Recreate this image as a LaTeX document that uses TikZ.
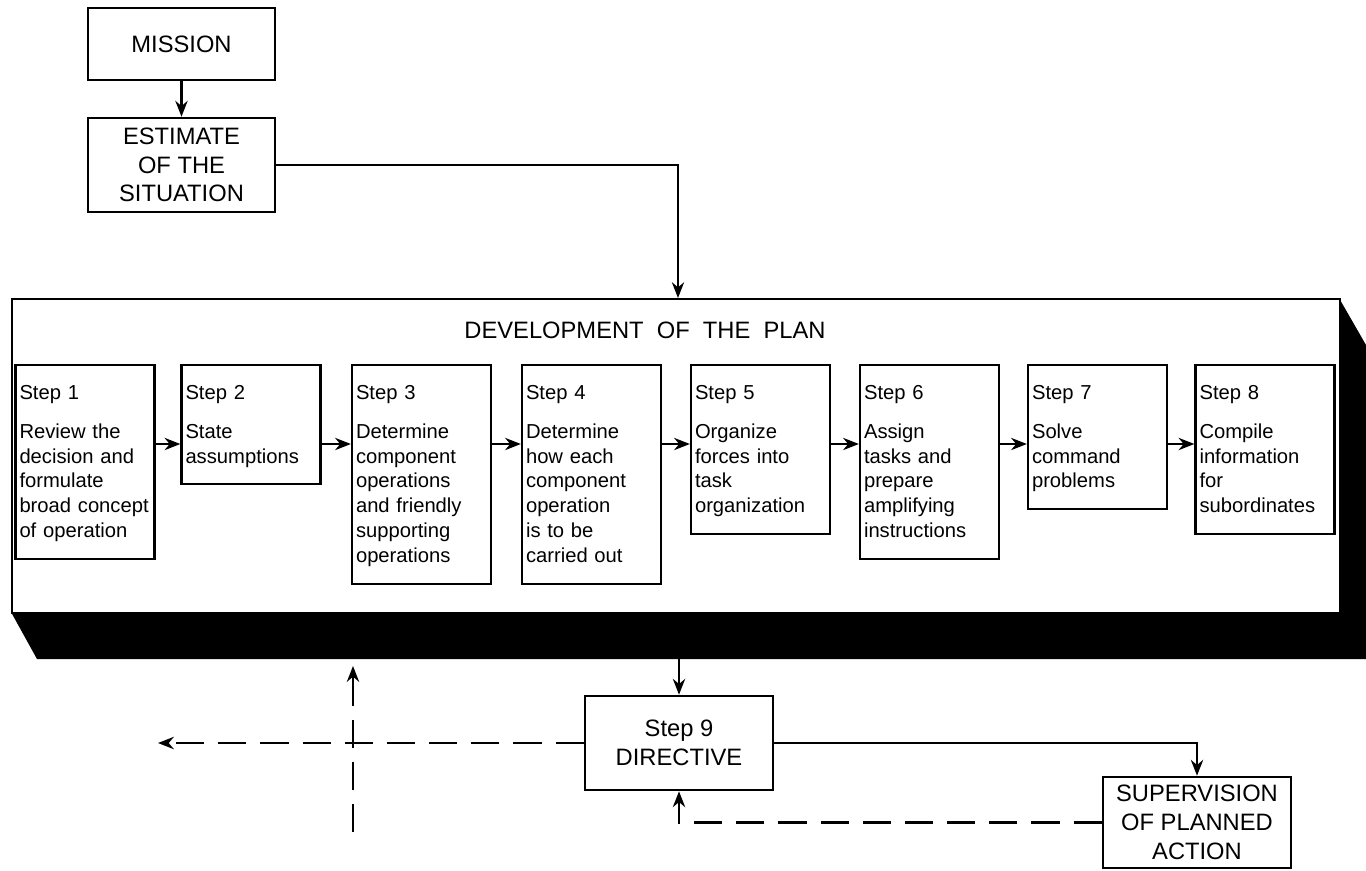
\documentclass[tikz,border=0pt]{standalone}
\usepackage{fontspec}
\setmainfont{Liberation Sans}
\usetikzlibrary{arrows.meta}

\newcommand{\capsfont}{\fontsize{13.5}{16.4}\selectfont}
\newcommand{\stepfont}{\fontsize{11.5}{14.2}\selectfont}
\newcommand{\topstrut}{\rule{0pt}{0.68cm}}
\newcommand{\botstrut}{\rule[-0.42cm]{0pt}{0.42cm}}

\tikzset{
	titlebox/.style={draw, line width=1.5pt, font=\capsfont, align=center, inner sep=0pt},
	stepbox/.style={draw, line width=1.3pt, anchor=north, text width=2.62cm, inner xsep=0.08cm, inner ysep=0pt, align=left, font=\stepfont},
	link/.style={line width=1.2pt, ->},
	feedback/.style={line width=1.4pt, ->, dash pattern=on 16pt off 8pt}
}

\begin{document}
\begin{tikzpicture}[x=0.02cm, y=-0.02cm, >={Stealth[length=9pt,width=7pt]}]
	
	\useasboundingbox (0,0) rectangle (1366,870);
	
	% top of the chart
	\node[titlebox, minimum width=3.74cm, minimum height=1.44cm] (mission) at (181.5,44) {MISSION};
	\node[titlebox, minimum width=3.74cm, minimum height=1.88cm] (estimate) at (181.5,165) {ESTIMATE\\OF THE\\SITUATION};
	\draw[link] (mission) -- (estimate);
	
	% the plan block and its shadow
	\fill (1339,298) -- (1366,345) -- (1366,659) -- (37,659) -- (11,612) -- (1339,612) -- cycle;
	\node[draw, line width=1.3pt, anchor=north west, minimum width=26.56cm, minimum height=6.28cm, inner sep=0pt] (plan) at (11,298) {};
	\node[font=\capsfont] (plantitle) at (645,330) {DEVELOPMENT\ \ OF\ \ THE\ \ PLAN};
	\coordinate (plantop) at (678,298);
	\coordinate (planbot) at (679,659);
	\draw[link, line width=0.9pt] (estimate.east) -| (plantop);
	
	% steps 1 to 8
	\node[stepbox] (s1) at (85,364) {\topstrut Step 1\\[0.28cm]Review the\\decision and\\formulate\\broad concept\\of operation\botstrut};
	\node[stepbox] (s2) at (251,364) {\topstrut Step 2\\[0.28cm]State\\assumptions\botstrut};
	\node[stepbox] (s3) at (421.5,364) {\topstrut Step 3\\[0.28cm]Determine\\component\\operations\\and friendly\\supporting\\operations\botstrut};
	\node[stepbox] (s4) at (591.5,364) {\topstrut Step 4\\[0.28cm]Determine\\how each\\component\\operation\\is to be\\carried out\botstrut};
	\node[stepbox] (s5) at (760.5,364) {\topstrut Step 5\\[0.28cm]Organize\\forces into\\task\\organization\botstrut};
	\node[stepbox] (s6) at (929.5,364) {\topstrut Step 6\\[0.28cm]Assign\\tasks and\\prepare\\amplifying\\instructions\botstrut};
	\node[stepbox] (s7) at (1097.5,364) {\topstrut Step 7\\[0.28cm]Solve\\command\\problems\botstrut};
	\node[stepbox] (s8) at (1265,364) {\topstrut Step 8\\[0.28cm]Compile\\information\\for\\subordinates\botstrut};
	
	\coordinate (row) at (0,444);
	\foreach \a/\b in {s1/s2,s2/s3,s3/s4,s4/s5,s5/s6,s6/s7,s7/s8}
	{
		\draw[link] (\a.east |- row) -- (\b.west |- row);
	}
	
	% directive and supervision
	\node[titlebox, minimum width=3.76cm, minimum height=1.88cm] (step9) at (679,743) {Step 9\\DIRECTIVE};
	\node[titlebox, minimum width=3.76cm, minimum height=1.82cm] (superv) at (1197,822.5) {SUPERVISION\\OF PLANNED\\ACTION};
	\draw[link] (planbot) -- (step9.north);
	\draw[link] (step9.east) -| (superv.north);
	
	% dashed returns
	\coordinate (leftend) at (158,743);
	\coordinate (vbot) at (353,832);
	\coordinate (vtop) at (353,666);
	\draw[feedback] (superv.west) -| (step9.south);
	\draw[feedback] (step9.west) -- (leftend);
	\draw[feedback] (vbot) -- (vtop);

\end{tikzpicture}
\end{document}
